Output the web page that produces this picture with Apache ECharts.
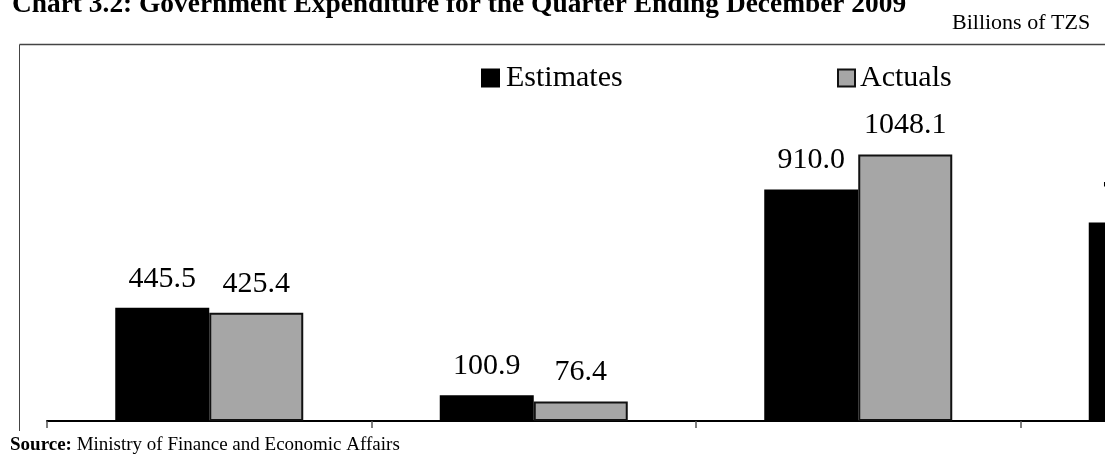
<!DOCTYPE html>
<html>
<head>
<meta charset="utf-8">
<script src="https://cdn.jsdelivr.net/npm/echarts@6/dist/echarts.min.js"></script>
<style>
html,body{margin:0;padding:0;background:#fff;overflow:hidden;width:1105px;height:455px;}
#chart{width:1400px;height:455px;}
</style>
</head>
<body>
<div id="chart"></div>
<script>
const categories = ["Wages and Salaries", "Interest Payments", "Other Recurrent Expenditure", "Development Expenditure"];
const estimates = [445.5, 100.9, 910.0, 781.0];
const actuals = [425.4, 76.4, 1048.1, 690.0];
const titleText = "Chart 3.2: Government Expenditure for the Quarter Ending December 2009";
const unitText = "Billions of TZS";
const sourceLabel = "Source:";
const sourceText = "Ministry of Finance and Economic Affairs";

const FONT = "'Liberation Serif', 'Times New Roman', serif";
const chart = echarts.init(document.getElementById('chart'), null, {renderer: 'canvas'});

const labelCfg = {
  show: true,
  position: 'top',
  distance: 14,
  color: '#000',
  fontFamily: FONT,
  fontSize: 30,
  formatter: p => p.value.toFixed(1)
};

chart.setOption({
  backgroundColor: '#fff',
  animation: false,
  title: [
    {text: titleText, left: 12, top: -9, padding: 0,
     textStyle: {fontFamily: FONT, fontWeight: 'bold', fontSize: 27.4, color: '#000'}},
    {text: unitText, left: 952, top: 12, padding: 0,
     textStyle: {fontFamily: FONT, fontWeight: 'normal', fontSize: 22, color: '#000'}},
    {text: '{b|' + sourceLabel + '} ' + sourceText, left: 10, top: 436, padding: 0,
     textStyle: {fontFamily: FONT, fontWeight: 'normal', fontSize: 19, color: '#000',
       rich: {b: {fontFamily: FONT, fontWeight: 'bold', fontSize: 19, color: '#000'}}}}
  ],
  graphic: [
    {type: 'line', shape: {x1: 19.5, y1: 44.5, x2: 1400, y2: 44.5}, style: {stroke: '#444', lineWidth: 1.5}},
    {type: 'line', shape: {x1: 19.5, y1: 44.5, x2: 19.5, y2: 431}, style: {stroke: '#444', lineWidth: 1}}
  ],
  legend: [
    {data: ['Estimates'], left: 481, top: 63, padding: 0, icon: 'rect', itemWidth: 17, itemHeight: 17,
     textStyle: {fontFamily: FONT, fontSize: 30, color: '#000', padding: [0, 0, 0, 2]}},
    {data: ['Actuals'], left: 837, top: 63, padding: 0, icon: 'rect', itemWidth: 17, itemHeight: 17,
     textStyle: {fontFamily: FONT, fontSize: 30, color: '#000', padding: [0, 0, 0, 0]}}
  ],
  grid: {left: 47, right: 55, top: 65, bottom: 34, containLabel: false},
  xAxis: {
    type: 'category',
    data: categories,
    boundaryGap: true,
    axisLine: {show: true, lineStyle: {color: '#000', width: 2}},
    axisTick: {show: true, length: 7, lineStyle: {color: '#555', width: 1.5}},
    axisLabel: {show: false},
    splitLine: {show: false}
  },
  yAxis: {
    type: 'value', min: 0, max: 1400,
    show: false,
    splitLine: {show: false}
  },
  series: [
    {name: 'Estimates', type: 'bar', data: estimates, barWidth: 94, barGap: '0%',
     itemStyle: {color: '#000', borderColor: '#000', borderWidth: 2},
     label: labelCfg},
    {name: 'Actuals', type: 'bar', data: actuals, barWidth: 94, barGap: '0%',
     itemStyle: {color: '#a6a6a6', borderColor: '#111', borderWidth: 2},
     label: labelCfg}
  ]
});
</script>
</body>
</html>
